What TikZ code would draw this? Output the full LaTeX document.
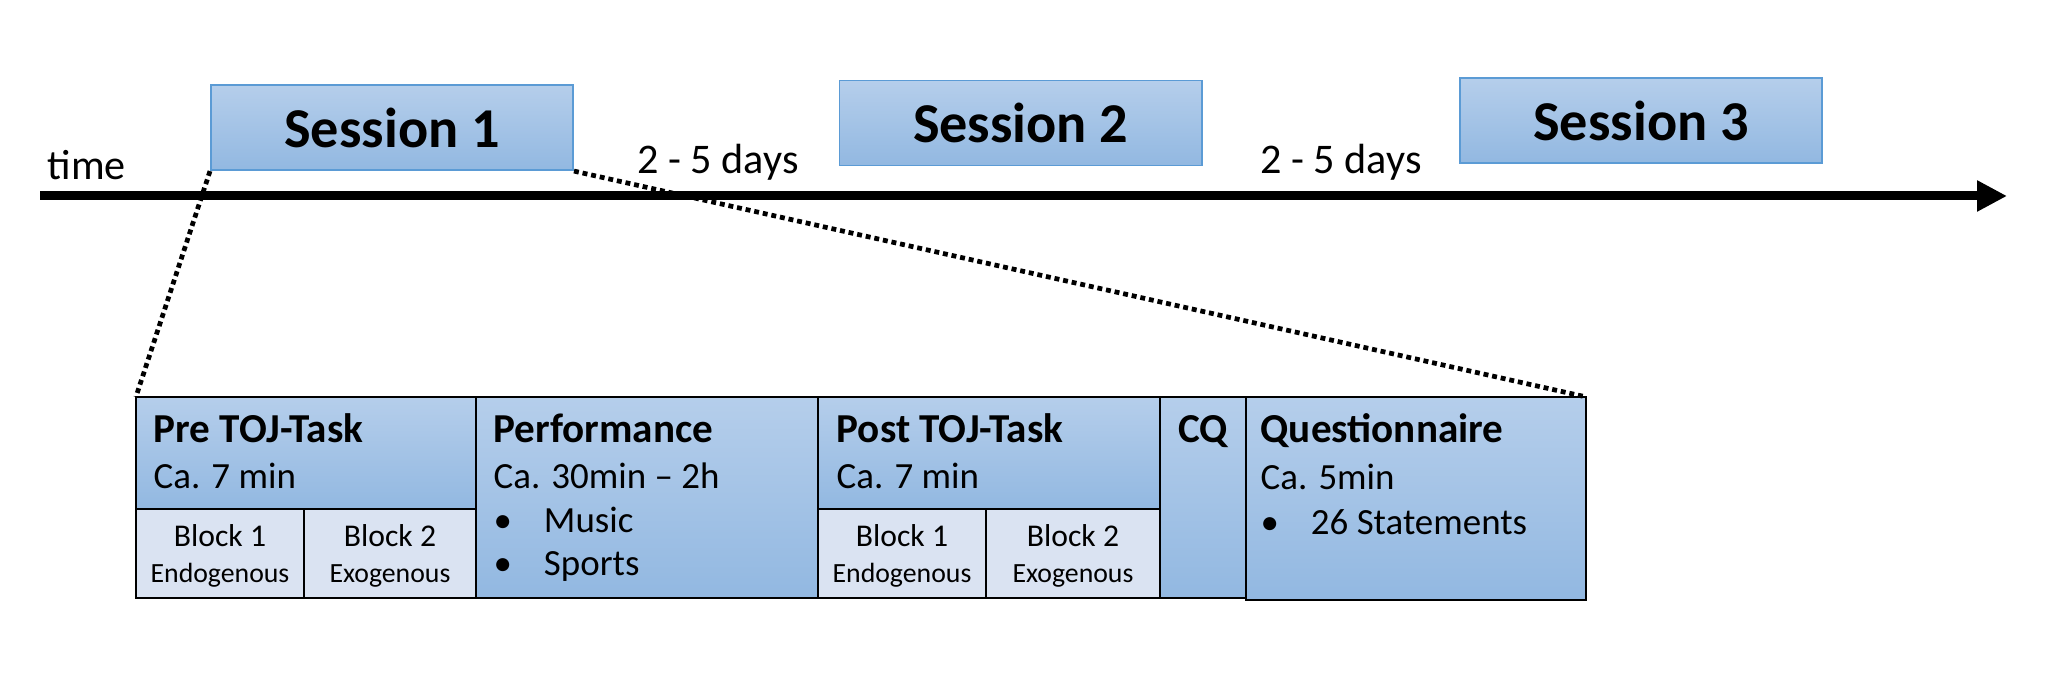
\documentclass[tikz,border=0pt]{standalone}
\usepackage{fontspec}
\setmainfont{Carlito}
\usepackage{xcolor}
\usetikzlibrary{arrows.meta}
\definecolor{sesTop}{RGB}{181,206,235}
\definecolor{sesBot}{RGB}{146,184,225}
\definecolor{sesLine}{RGB}{91,155,213}
\definecolor{blockFill}{RGB}{218,227,242}

\begin{document}
\begin{tikzpicture}[x=0.01cm, y=-0.01cm,
    sesbox/.style={draw=sesLine, line width=0.5pt, top color=sesTop, bottom color=sesBot, minimum width=3.62cm, minimum height=0.85cm, inner sep=0pt, font=\fontsize{16}{19}\selectfont\bfseries},
    phasebox/.style={draw=black, line width=0.6pt, top color=sesTop, bottom color=sesBot, inner sep=0pt, outer sep=0pt},
    blockbox/.style={draw=black, line width=0.6pt, fill=blockFill, inner sep=0pt, outer sep=0pt, minimum height=0.89cm},
    titletxt/.style={anchor=base west, inner sep=0pt, font=\fontsize{11.7}{14}\selectfont\bfseries},
    bodytxt/.style={anchor=base west, inner sep=0pt, font=\fontsize{10.5}{13}\selectfont},
    blocktxt/.style={anchor=base, inner sep=0pt, font=\fontsize{9}{11}\selectfont},
    condtxt/.style={anchor=base, inner sep=0pt, font=\fontsize{7.9}{9.5}\selectfont},
    daytxt/.style={anchor=base, inner sep=0pt, font=\fontsize{12}{14}\selectfont},
    zoomline/.style={line width=1.35pt, dash pattern=on 1.4pt off 1.1pt}
  ]
  \useasboundingbox (0,0) rectangle (2046,674);

  \coordinate (tStart) at (40,196);
  \coordinate (tEnd) at (2007,196);
  \draw[line width=2.56pt, -{Triangle[length=8.5pt, width=8.3pt]}] (tStart) -- (tEnd);
  \node[daytxt, anchor=base west] (timeLbl) at (47,180) {time};
  \node[daytxt] (gap1) at (718,174) {2 - 5 days};
  \node[daytxt] (gap2) at (1341,174) {2 - 5 days};

  \node[sesbox] (s1) at (392,127.7) {Session 1};
  \node[sesbox] (s2) at (1020.7,123) {Session 2};
  \node[sesbox] (s3) at (1641,120.7) {Session 3};

  \node[phasebox, minimum width=3.40cm, minimum height=1.12cm] (pre) at (306,453) {};
  \node[blockbox, minimum width=1.68cm] (preB1) at (220,553.5) {};
  \node[blockbox, minimum width=1.72cm] (preB2) at (390,553.5) {};
  \node[phasebox, minimum width=3.42cm, minimum height=2.01cm] (perf) at (647,497.5) {};
  \node[phasebox, minimum width=3.42cm, minimum height=1.12cm] (post) at (989,453) {};
  \node[blockbox, minimum width=1.68cm] (postB1) at (902,553.5) {};
  \node[blockbox, minimum width=1.74cm] (postB2) at (1073,553.5) {};
  \node[phasebox, minimum width=0.86cm, minimum height=2.01cm] (cq) at (1203,497.5) {};
  \node[phasebox, minimum width=3.40cm, minimum height=2.03cm] (quest) at (1416,498.5) {};

  \node[titletxt] (preTitle) at (153,443) {Pre TOJ-Task};
  \node[bodytxt] (preTime) at (153,489) {Ca. 7 min};
  \node[blocktxt] (preB1Lbl) at (220,547) {Block 1};
  \node[condtxt] (preB1Cond) at (220,583) {Endogenous};
  \node[blocktxt] (preB2Lbl) at (390,547) {Block 2};
  \node[condtxt] (preB2Cond) at (390,583) {Exogenous};

  \node[titletxt] (perfTitle) at (493,443) {Performance};
  \node[bodytxt] (perfTime) at (493,489) {Ca. 30min -- 2h};
  \node[bodytxt] (perfMusic) at (493,533) {\makebox[14.3pt][l]{\textbullet}Music};
  \node[bodytxt] (perfSports) at (493,576) {\makebox[14.3pt][l]{\textbullet}Sports};

  \node[titletxt] (postTitle) at (836,443) {Post TOJ-Task};
  \node[bodytxt] (postTime) at (836,489) {Ca. 7 min};
  \node[blocktxt] (postB1Lbl) at (902,547) {Block 1};
  \node[condtxt] (postB1Cond) at (902,583) {Endogenous};
  \node[blocktxt] (postB2Lbl) at (1073,547) {Block 2};
  \node[condtxt] (postB2Cond) at (1073,583) {Exogenous};

  \node[titletxt, anchor=base] (cqTitle) at (1203,443) {CQ};

  \node[titletxt] (questTitle) at (1260,443) {Questionnaire};
  \node[bodytxt] (questTime) at (1260,490) {Ca. 5min};
  \node[bodytxt] (questItems) at (1260,535) {\makebox[14.3pt][l]{\textbullet}26 Statements};

  \draw[zoomline] (s1.south west) -- (pre.north west);
  \draw[zoomline] (s1.south east) -- (quest.north east);
\end{tikzpicture}
\end{document}
